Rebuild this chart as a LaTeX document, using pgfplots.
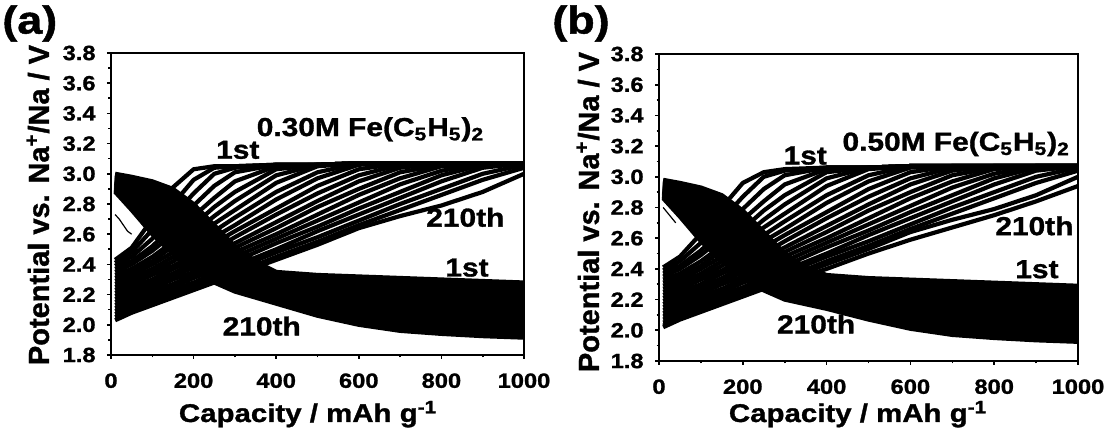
\documentclass[border=0pt]{standalone}
\usepackage{fontspec}
\setmainfont{Liberation Sans}[FakeStretch=1.15, BoldFeatures={FakeBold=1.2}]
\newfontfamily\yfont{Liberation Sans}[BoldFeatures={FakeBold=1.2}]
\usepackage{pgfplots}
\pgfplotsset{compat=1.18}
\usepackage{pgfplotstable}

% charge curves, panel (a): c0 = 1st cycle ... c20 = 210th cycle (selected cycles)
\pgfplotstableread{
x c0 c1 c2 c3 c4 c5 c6 c7 c8 c9 c10 c11 c12 c13 c14 c15 c16 c17 c18 c19 c20
10 2.43 2.41 2.39 2.37 2.35 2.33 2.31 2.29 2.27 2.25 2.23 2.21 2.19 2.17 2.15 2.13 2.11 2.09 2.07 2.05 2.03
50 2.51 2.48 2.45 2.42 2.40 2.37 2.35 2.33 2.31 2.29 2.27 2.25 2.23 2.21 2.19 2.17 2.15 2.13 2.11 2.09 2.08
100 2.70 2.63 2.57 2.52 2.49 2.45 2.42 2.40 2.37 2.35 2.33 2.30 2.28 2.26 2.24 2.22 2.20 2.18 2.16 2.14 2.13
150 2.91 2.80 2.72 2.65 2.60 2.55 2.52 2.48 2.45 2.42 2.39 2.37 2.34 2.32 2.30 2.27 2.25 2.23 2.21 2.19 2.18
200 3.03 2.96 2.87 2.79 2.72 2.66 2.61 2.57 2.53 2.50 2.46 2.43 2.41 2.38 2.35 2.33 2.31 2.28 2.26 2.24 2.23
250 3.05 3.04 3.00 2.92 2.84 2.78 2.72 2.67 2.62 2.58 2.54 2.50 2.47 2.44 2.41 2.39 2.36 2.34 2.31 2.29 2.28
300 3.05 3.05 3.04 3.01 2.95 2.88 2.82 2.76 2.71 2.66 2.62 2.58 2.54 2.51 2.48 2.45 2.42 2.39 2.37 2.34 2.33
400 3.06 3.06 3.06 3.06 3.05 3.03 2.99 2.94 2.88 2.83 2.77 2.73 2.68 2.64 2.60 2.57 2.54 2.50 2.48 2.45 2.43
500 3.06 3.06 3.06 3.06 3.06 3.06 3.06 3.05 3.01 2.97 2.92 2.87 2.82 2.78 2.73 2.69 2.65 2.62 2.58 2.55 2.53
600 3.07 3.07 3.07 3.07 3.07 3.07 3.07 3.07 3.07 3.06 3.03 2.99 2.95 2.90 2.86 2.81 2.77 2.73 2.69 2.66 2.64
700 3.07 3.07 3.07 3.07 3.07 3.07 3.07 3.07 3.07 3.07 3.07 3.06 3.04 3.01 2.97 2.93 2.88 2.84 2.80 2.76 2.72
800 3.07 3.07 3.07 3.07 3.07 3.07 3.07 3.07 3.07 3.07 3.07 3.07 3.07 3.06 3.05 3.02 2.99 2.95 2.90 2.86 2.79
900 3.07 3.07 3.07 3.07 3.07 3.07 3.07 3.07 3.07 3.07 3.07 3.07 3.07 3.07 3.07 3.07 3.06 3.04 3.00 2.96 2.88
1000 3.07 3.07 3.07 3.07 3.07 3.07 3.07 3.07 3.07 3.07 3.07 3.07 3.07 3.07 3.07 3.07 3.07 3.07 3.06 3.04 3.00
}\chargeA

% discharge curves, panel (a)
\pgfplotstableread{
x c0 c1 c2 c3 c4 c5 c6 c7 c8 c9 c10 c11 c12 c13 c14 c15 c16 c17 c18 c19 c20
10 3.000 2.994 2.988 2.982 2.976 2.970 2.964 2.958 2.952 2.946 2.940 2.934 2.928 2.922 2.916 2.910 2.904 2.898 2.892 2.886 2.880
50 2.980 2.969 2.958 2.947 2.936 2.925 2.914 2.903 2.892 2.881 2.870 2.859 2.848 2.837 2.826 2.815 2.804 2.793 2.782 2.771 2.760
100 2.950 2.933 2.915 2.898 2.880 2.863 2.845 2.828 2.810 2.793 2.775 2.758 2.740 2.723 2.705 2.688 2.670 2.653 2.635 2.618 2.600
150 2.900 2.879 2.857 2.836 2.814 2.793 2.771 2.750 2.728 2.707 2.685 2.664 2.642 2.621 2.599 2.578 2.556 2.535 2.513 2.492 2.470
200 2.800 2.778 2.756 2.734 2.712 2.690 2.668 2.646 2.624 2.602 2.580 2.558 2.536 2.514 2.492 2.470 2.448 2.426 2.404 2.382 2.360
250 2.660 2.641 2.622 2.603 2.584 2.565 2.546 2.527 2.508 2.489 2.470 2.451 2.432 2.413 2.394 2.375 2.356 2.337 2.318 2.299 2.280
300 2.520 2.505 2.490 2.475 2.460 2.445 2.430 2.415 2.400 2.385 2.370 2.355 2.340 2.325 2.310 2.295 2.280 2.265 2.250 2.235 2.220
350 2.420 2.408 2.396 2.384 2.372 2.360 2.348 2.336 2.324 2.312 2.300 2.288 2.276 2.264 2.252 2.240 2.228 2.216 2.204 2.192 2.180
400 2.350 2.340 2.329 2.319 2.308 2.298 2.287 2.277 2.266 2.256 2.245 2.235 2.224 2.214 2.203 2.193 2.182 2.172 2.161 2.151 2.140
500 2.330 2.317 2.303 2.290 2.276 2.263 2.249 2.236 2.222 2.209 2.195 2.182 2.168 2.155 2.141 2.128 2.114 2.101 2.087 2.074 2.060
600 2.320 2.304 2.288 2.272 2.256 2.240 2.224 2.208 2.192 2.176 2.160 2.144 2.128 2.112 2.096 2.080 2.064 2.048 2.032 2.016 2.000
700 2.310 2.293 2.275 2.258 2.240 2.223 2.205 2.188 2.170 2.153 2.135 2.118 2.100 2.083 2.065 2.048 2.030 2.013 1.995 1.978 1.960
800 2.300 2.282 2.264 2.246 2.228 2.210 2.192 2.174 2.156 2.138 2.120 2.102 2.084 2.066 2.048 2.030 2.012 1.994 1.976 1.958 1.940
900 2.290 2.272 2.254 2.235 2.217 2.199 2.181 2.162 2.144 2.126 2.108 2.089 2.071 2.053 2.035 2.016 1.998 1.980 1.962 1.943 1.925
1000 2.280 2.262 2.244 2.225 2.207 2.189 2.171 2.152 2.134 2.116 2.098 2.079 2.061 2.043 2.025 2.006 1.988 1.970 1.952 1.933 1.915
}\dischargeA

% charge curves, panel (b)
\pgfplotstableread{
x c0 c1 c2 c3 c4 c5 c6 c7 c8 c9 c10 c11 c12 c13 c14 c15 c16 c17 c18 c19 c20
10 2.41 2.39 2.37 2.35 2.33 2.31 2.29 2.27 2.25 2.23 2.21 2.19 2.17 2.15 2.13 2.11 2.09 2.07 2.05 2.03 2.02
50 2.48 2.45 2.42 2.40 2.37 2.35 2.33 2.31 2.29 2.27 2.25 2.23 2.21 2.19 2.17 2.15 2.13 2.11 2.09 2.08 2.07
100 2.63 2.57 2.52 2.49 2.45 2.42 2.40 2.37 2.35 2.33 2.30 2.28 2.26 2.24 2.22 2.20 2.18 2.16 2.14 2.13 2.12
150 2.80 2.72 2.65 2.60 2.55 2.52 2.48 2.45 2.42 2.39 2.37 2.34 2.32 2.30 2.27 2.25 2.23 2.21 2.19 2.18 2.17
200 2.96 2.87 2.79 2.72 2.66 2.61 2.57 2.53 2.50 2.46 2.43 2.41 2.38 2.35 2.33 2.31 2.28 2.26 2.24 2.23 2.22
250 3.03 3.00 2.92 2.84 2.78 2.72 2.67 2.62 2.58 2.54 2.50 2.47 2.44 2.41 2.39 2.36 2.34 2.31 2.29 2.28 2.27
300 3.05 3.04 3.01 2.95 2.88 2.82 2.76 2.71 2.66 2.62 2.58 2.54 2.51 2.48 2.45 2.42 2.39 2.37 2.34 2.33 2.31
400 3.06 3.06 3.06 3.05 3.03 2.99 2.94 2.88 2.83 2.77 2.73 2.68 2.64 2.60 2.57 2.54 2.50 2.48 2.45 2.43 2.40
500 3.06 3.06 3.06 3.06 3.06 3.06 3.05 3.01 2.97 2.92 2.87 2.82 2.78 2.73 2.69 2.65 2.62 2.58 2.55 2.53 2.50
600 3.07 3.07 3.07 3.07 3.07 3.07 3.07 3.07 3.06 3.03 2.99 2.95 2.90 2.86 2.81 2.77 2.73 2.69 2.66 2.64 2.59
700 3.07 3.07 3.07 3.07 3.07 3.07 3.07 3.07 3.07 3.07 3.06 3.04 3.01 2.97 2.93 2.88 2.84 2.80 2.76 2.72 2.67
800 3.07 3.07 3.07 3.07 3.07 3.07 3.07 3.07 3.07 3.07 3.07 3.07 3.06 3.05 3.02 2.99 2.95 2.90 2.86 2.79 2.75
900 3.07 3.07 3.07 3.07 3.07 3.07 3.07 3.07 3.07 3.07 3.07 3.07 3.07 3.07 3.07 3.06 3.04 3.00 2.96 2.88 2.84
1000 3.07 3.07 3.07 3.07 3.07 3.07 3.07 3.07 3.07 3.07 3.07 3.07 3.07 3.07 3.07 3.07 3.07 3.06 3.04 3.00 2.94
}\chargeB

% discharge curves, panel (b)
\pgfplotstableread{
x c0 c1 c2 c3 c4 c5 c6 c7 c8 c9 c10 c11 c12 c13 c14 c15 c16 c17 c18 c19 c20
10 2.980 2.974 2.968 2.962 2.956 2.950 2.944 2.938 2.932 2.926 2.920 2.914 2.908 2.902 2.896 2.890 2.884 2.878 2.872 2.866 2.860
50 2.960 2.949 2.938 2.927 2.916 2.905 2.894 2.883 2.872 2.861 2.850 2.839 2.828 2.817 2.806 2.795 2.784 2.773 2.762 2.751 2.740
100 2.930 2.913 2.895 2.878 2.860 2.843 2.825 2.808 2.790 2.773 2.755 2.738 2.720 2.703 2.685 2.668 2.650 2.633 2.615 2.598 2.580
150 2.880 2.859 2.837 2.816 2.794 2.773 2.751 2.730 2.708 2.687 2.665 2.644 2.622 2.601 2.579 2.558 2.536 2.515 2.493 2.472 2.450
200 2.780 2.758 2.736 2.714 2.692 2.670 2.648 2.626 2.604 2.582 2.560 2.538 2.516 2.494 2.472 2.450 2.428 2.406 2.384 2.362 2.340
250 2.640 2.621 2.602 2.583 2.564 2.545 2.526 2.507 2.488 2.469 2.450 2.431 2.412 2.393 2.374 2.355 2.336 2.317 2.298 2.279 2.260
300 2.500 2.485 2.470 2.455 2.440 2.425 2.410 2.395 2.380 2.365 2.350 2.335 2.320 2.305 2.290 2.275 2.260 2.245 2.230 2.215 2.200
350 2.410 2.398 2.386 2.374 2.362 2.350 2.338 2.326 2.314 2.302 2.290 2.278 2.266 2.254 2.242 2.230 2.218 2.206 2.194 2.182 2.170
400 2.360 2.340 2.329 2.319 2.308 2.298 2.287 2.277 2.266 2.256 2.245 2.235 2.224 2.214 2.203 2.193 2.182 2.172 2.161 2.151 2.140
500 2.340 2.327 2.313 2.300 2.286 2.273 2.259 2.246 2.232 2.219 2.205 2.192 2.178 2.165 2.151 2.138 2.124 2.111 2.097 2.084 2.070
600 2.330 2.314 2.298 2.282 2.266 2.250 2.234 2.218 2.202 2.186 2.170 2.154 2.138 2.122 2.106 2.090 2.074 2.058 2.042 2.026 2.010
700 2.320 2.303 2.285 2.268 2.250 2.233 2.215 2.198 2.180 2.163 2.145 2.128 2.110 2.093 2.075 2.058 2.040 2.023 2.005 1.988 1.970
800 2.310 2.292 2.274 2.256 2.238 2.220 2.202 2.184 2.166 2.148 2.130 2.112 2.094 2.076 2.058 2.040 2.022 2.004 1.986 1.968 1.950
900 2.300 2.282 2.264 2.245 2.227 2.209 2.191 2.172 2.154 2.136 2.118 2.099 2.081 2.063 2.045 2.026 2.008 1.990 1.972 1.953 1.935
1000 2.290 2.272 2.254 2.235 2.217 2.199 2.181 2.162 2.144 2.126 2.108 2.089 2.071 2.053 2.035 2.016 1.998 1.980 1.962 1.943 1.925
}\dischargeB

\pgfplotsset{
  panel/.style={
    scale only axis,
    xmin=0, xmax=1000, ymin=1.8, ymax=3.8,
    xtick={0,200,400,600,800,1000},
    ytick={1.8,2.0,2.2,2.4,2.6,2.8,3.0,3.2,3.4,3.6,3.8},
    minor x tick num=1, minor y tick num=1,
    xtick pos=left, ytick pos=left,
    tick align=outside,
    major tick length=2pt, minor tick length=1.25pt,
    axis line style={line width=1pt},
    every tick/.style={black, line width=0.8pt},
    tick label style={font=\fontsize{10.3}{12}\selectfont\bfseries},
    /pgf/number format/assume math mode=true,
    scaled ticks=false,
    yticklabel={\pgfmathprintnumber[fixed,fixed zerofill,precision=1]{\tick}},
    xticklabel={\pgfmathprintnumber[fixed,precision=0,1000 sep={}]{\tick}},
    yticklabel style={anchor=east, inner sep=0pt, xshift=-5.5pt},
    xticklabel style={anchor=north, inner sep=0pt, yshift=-7pt},
    clip mode=individual,
  },
  curve/.style={black, line width=2.1pt, line join=round, mark=none},
}
\tikzset{lbl/.style={font=\fontsize{13}{15}\selectfont\bfseries, inner sep=0pt}}

\begin{document}
\begin{tikzpicture}
\path[use as bounding box] (0,0) rectangle (555pt,217pt);

% ---------- panel (a)
\begin{axis}[panel, at={(55.5pt,39.5pt)}, anchor=south west, width=206.5pt, height=151pt]
\pgfplotsinvokeforeach{0,...,20}{
  \addplot[curve] table[x=x, y=c#1] {\dischargeA};
}
\pgfplotsinvokeforeach{0,...,20}{
  \addplot[curve] table[x=x, y=c#1] {\chargeA};
}
\addplot[black, line width=0.6pt, mark=none] coordinates {(10,2.73) (20,2.70) (30,2.66) (40,2.62) (50,2.60)};
\node[lbl, anchor=base west] at (axis cs:352,3.25) {0.30M Fe(C\textsubscript{5}H\textsubscript{5})\textsubscript{2}};
\node[lbl, anchor=base] at (axis cs:307,3.10) {1st};
\node[lbl, anchor=base] at (axis cs:858,2.65) {210th};
\node[lbl, anchor=base] at (axis cs:862,2.32) {1st};
\node[lbl, anchor=base] at (axis cs:365,1.93) {210th};
\end{axis}

% ---------- panel (b)
\begin{axis}[panel, at={(329.5pt,36.5pt)}, anchor=south west, width=209.5pt, height=153.5pt]
\pgfplotsinvokeforeach{0,...,20}{
  \addplot[curve] table[x=x, y=c#1] {\dischargeB};
}
\pgfplotsinvokeforeach{0,...,20}{
  \addplot[curve] table[x=x, y=c#1] {\chargeB};
}
\addplot[black, line width=0.6pt, mark=none] coordinates {(10,2.80) (25,2.75) (40,2.70)};
\node[lbl, anchor=base west] at (axis cs:437,3.17) {0.50M Fe(C\textsubscript{5}H\textsubscript{5})\textsubscript{2}};
\node[lbl, anchor=base] at (axis cs:349,3.08) {1st};
\node[lbl, anchor=base] at (axis cs:896,2.62) {210th};
\node[lbl, anchor=base] at (axis cs:902,2.34) {1st};
\node[lbl, anchor=base] at (axis cs:375,1.98) {210th};
\end{axis}

% ---------- outer labels
\node[font=\fontsize{19.5}{22}\selectfont\bfseries, inner sep=0pt, anchor=base west] at (1pt,200.2pt) {(a)};
\node[font=\fontsize{19.5}{22}\selectfont\bfseries, inner sep=0pt, anchor=base west] at (276pt,200.2pt) {(b)};
\node[font=\fontsize{12.8}{14}\selectfont\bfseries, inner sep=0pt, anchor=base] at (154pt,6pt) {Capacity / mAh g\textsuperscript{-1}};
\node[font=\fontsize{12.8}{14}\selectfont\bfseries, inner sep=0pt, anchor=base] at (429pt,6pt) {Capacity / mAh g\textsuperscript{-1}};
\node[font=\yfont\fontsize{14.5}{17}\selectfont\bfseries, inner sep=0pt, rotate=90] at (19pt,114.5pt) {Potential vs. Na\textsuperscript{+}/Na / V};
\node[font=\yfont\fontsize{14.5}{17}\selectfont\bfseries, inner sep=0pt, rotate=90] at (294pt,111pt) {Potential vs. Na\textsuperscript{+}/Na / V};
\end{tikzpicture}
\end{document}
